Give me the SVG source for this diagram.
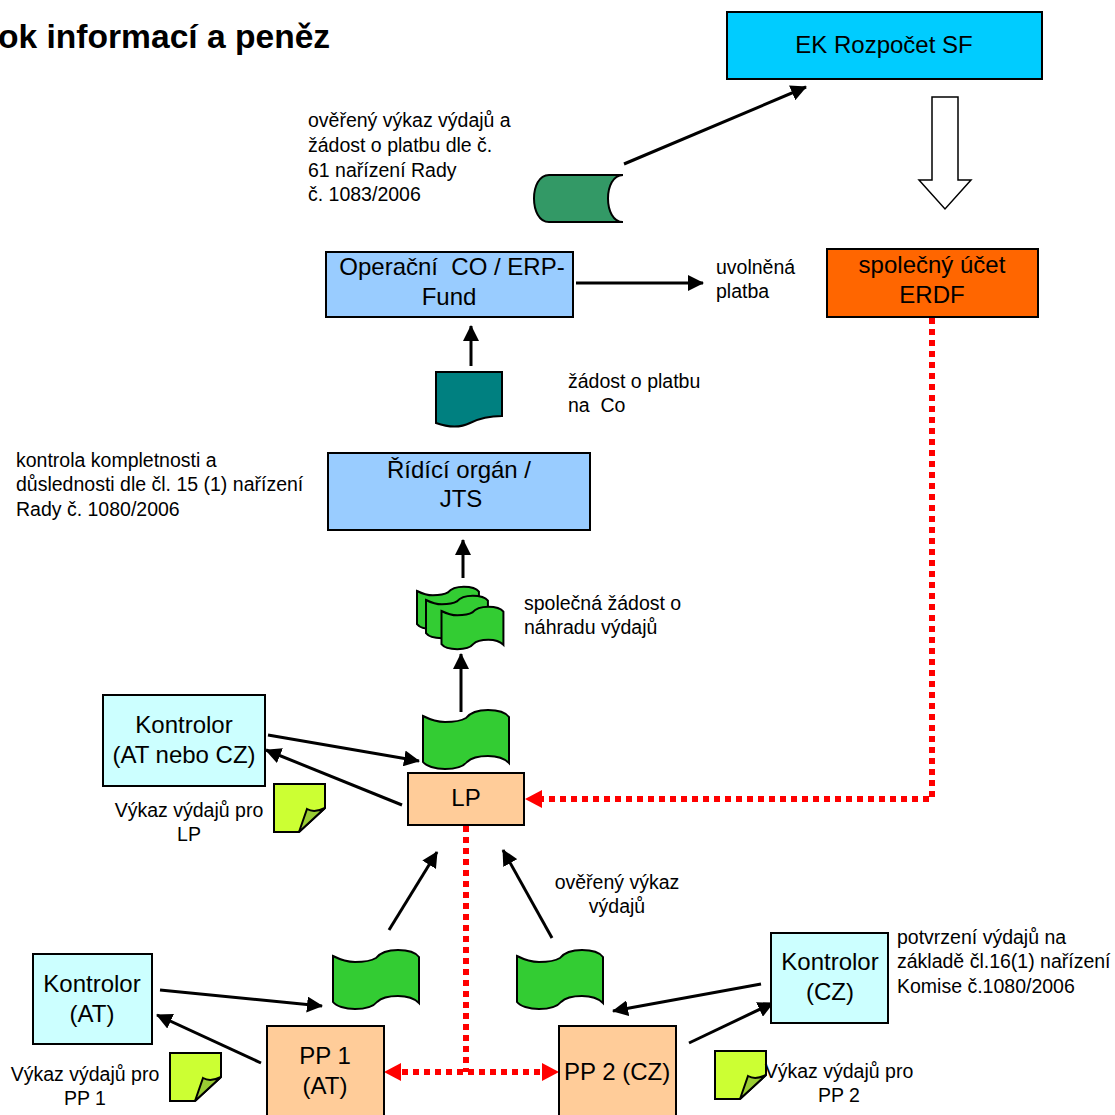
<svg xmlns="http://www.w3.org/2000/svg" width="1115" height="1115" viewBox="0 0 1115 1115">
<style>
text{font-family:"Liberation Sans",Arial,sans-serif;fill:#000}
.n{font-size:24px;text-anchor:middle}
.l{font-size:19.5px}
.c{text-anchor:middle}
.b{stroke:#000;stroke-width:2}
.fl{fill:#33cc33;stroke:#000;stroke-width:2;vector-effect:non-scaling-stroke}
.ln{fill:none;stroke:#000;stroke-width:3}
.r{fill:none;stroke:#f00;stroke-width:6;stroke-dasharray:6 5}
.note{fill:#ccff33;stroke:#000;stroke-width:2}
.fold{fill:#99cc33;stroke:#000;stroke-width:2}
</style>
<defs>
<marker id="ah" markerUnits="userSpaceOnUse" markerWidth="18" markerHeight="16" refX="15" refY="8" orient="auto"><path d="M0,0L16,8L0,16Z" fill="#000"/></marker>
<path id="flag" class="fl" d="M0,0C8,4 15,6 22,6C30,6 38,5 43,2C47,-3 55,-6 65,-6C75,-6 83,-3 86,1L86,47C82,43 74,40 65,40C55,40 48,42 44,46C40,51 32,53 22,53C12,53 3,50 0,46Z"/>
<g id="note"><path class="note" d="M0,0H51V24L25,48H0Z"/><path class="fold" d="M25,48L33,25C38,28 45,27 51,24Z"/></g>
</defs>
<text x="-2" y="48" style="font-size:33.6px;font-weight:bold">ok informací a peněz</text>

<g id="connectors">
<path class="ln" d="M624,164L806,87" marker-end="url(#ah)"/>
<path class="ln" d="M576,283H703" marker-end="url(#ah)"/>
<path class="ln" d="M471,366V326" marker-end="url(#ah)"/>
<path class="ln" d="M463,578V540" marker-end="url(#ah)"/>
<path class="ln" d="M461,712V654" marker-end="url(#ah)"/>
<path class="ln" d="M268,735L419,761" marker-end="url(#ah)"/>
<path class="ln" d="M402,805L266,750" marker-end="url(#ah)"/>
<path class="ln" d="M389,930L437,852" marker-end="url(#ah)"/>
<path class="ln" d="M552,938L503,850" marker-end="url(#ah)"/>
<path class="ln" d="M160,990L322,1006" marker-end="url(#ah)"/>
<path class="ln" d="M261,1063L157,1015" marker-end="url(#ah)"/>
<path class="ln" d="M761,984L613,1011" marker-end="url(#ah)"/>
<path class="ln" d="M689,1043L773,1003" marker-end="url(#ah)"/>
<path class="r" d="M932,318V799H540"/>
<path d="M542,790L525,799L542,808Z" fill="#f00"/>
<path class="r" d="M466,826V1072"/>
<path class="r" d="M402,1072H542"/>
<path d="M401,1063L384,1072L401,1081Z" fill="#f00"/>
<path d="M542,1063L559,1072L542,1081Z" fill="#f00"/>
</g>

<g id="ek"><rect class="b" x="727" y="12" width="315" height="67" fill="#00ccff"/><text class="n" x="884" y="53">EK Rozpočet SF</text></g>
<g id="arrow-hollow"><path d="M932,97H958V180H971L945,209L919,180H932Z" fill="#fff" stroke="#000" stroke-width="1.5"/></g>
<g id="ucet"><rect class="b" x="827" y="249" width="211" height="68" fill="#ff6600"/><text class="n" x="932" y="273">společný účet</text><text class="n" x="932" y="303">ERDF</text></g>
<g id="co"><rect class="b" x="326" y="252" width="247" height="65" fill="#99ccff"/><text class="n" x="452" y="275" xml:space="preserve">Operační  CO / ERP-</text><text class="n" x="449" y="305">Fund</text></g>
<g id="ro"><rect class="b" x="328" y="453" width="262" height="77" fill="#99ccff"/><text class="n" x="459" y="478">Řídící orgán /</text><text class="n" x="461" y="507">JTS</text></g>
<g id="kontrolor-lp"><rect class="b" x="103" y="695" width="162" height="91" fill="#ccffff"/><text class="n" x="184" y="733">Kontrolor</text><text class="n" x="184" y="763">(AT nebo CZ)</text></g>
<g id="lp"><rect class="b" x="408" y="773" width="116" height="52" fill="#ffcc99"/><text class="n" x="466" y="806">LP</text></g>
<g id="kontrolor-at"><rect class="b" x="33" y="954" width="119" height="90" fill="#ccffff"/><text class="n" x="92" y="992">Kontrolor</text><text class="n" x="92" y="1022">(AT)</text></g>
<g id="kontrolor-cz"><rect class="b" x="771" y="933" width="117" height="90" fill="#ccffff"/><text class="n" x="830" y="970">Kontrolor</text><text class="n" x="830" y="1000">(CZ)</text></g>
<g id="pp1"><rect class="b" x="267" y="1026" width="117" height="100" fill="#ffcc99"/><text class="n" x="325" y="1064">PP 1</text><text class="n" x="325" y="1094">(AT)</text></g>
<g id="pp2"><rect class="b" x="559" y="1026" width="117" height="100" fill="#ffcc99"/><text class="n" x="617" y="1080">PP 2 (CZ)</text></g>

<g id="doc-cylinder"><path d="M623,175H549C529,175 529,222 549,222H623C603,222 603,175 623,175Z" fill="#339966" stroke="#000" stroke-width="2"/></g>
<g id="doc-teal"><path d="M436,372H502V416C490,416 480,418 470,423C460,428 450,428 436,423Z" fill="#008080" stroke="#000" stroke-width="2"/></g>
<g id="doc-stack">
<use href="#flag" transform="translate(417,591) scale(.72)"/>
<use href="#flag" transform="translate(426,600) scale(.72)"/>
<use href="#flag" transform="translate(441.5,611) scale(.72)"/>
</g>
<g id="doc-lp"><use href="#flag" transform="translate(423,716)"/></g>
<g id="doc-pp1"><use href="#flag" transform="translate(333,956)"/></g>
<g id="doc-pp2"><use href="#flag" transform="translate(517,956)"/></g>
<g id="note-lp"><use href="#note" transform="translate(274,784)"/></g>
<g id="note-pp1"><use href="#note" transform="translate(170,1053)"/></g>
<g id="note-pp2"><use href="#note" transform="translate(715,1051)"/></g>

<g id="labels">
<text class="l" x="308" y="127">ověřený výkaz výdajů a</text>
<text class="l" x="308" y="152">žádost o platbu dle č.</text>
<text class="l" x="308" y="177">61 nařízení Rady</text>
<text class="l" x="308" y="201">č. 1083/2006</text>
<text class="l" x="716" y="274">uvolněná</text>
<text class="l" x="716" y="298">platba</text>
<text class="l" x="568" y="388">žádost o platbu</text>
<text class="l" x="568" y="412" xml:space="preserve">na  Co</text>
<text class="l" x="16" y="467">kontrola kompletnosti a</text>
<text class="l" x="16" y="491">důslednosti dle čl. 15 (1) nařízení</text>
<text class="l" x="16" y="516">Rady č. 1080/2006</text>
<text class="l" x="524" y="610">společná žádost o</text>
<text class="l" x="524" y="634">náhradu výdajů</text>
<text class="l c" x="189" y="817">Výkaz výdajů pro</text>
<text class="l c" x="189" y="841">LP</text>
<text class="l c" x="617" y="889">ověřený výkaz</text>
<text class="l c" x="617" y="913">výdajů</text>
<text class="l" x="897" y="944">potvrzení výdajů na</text>
<text class="l" x="897" y="968">základě čl.16(1) nařízení</text>
<text class="l" x="897" y="993">Komise č.1080/2006</text>
<text class="l c" x="85" y="1081">Výkaz výdajů pro</text>
<text class="l c" x="85" y="1105">PP 1</text>
<text class="l c" x="839" y="1078">Výkaz výdajů pro</text>
<text class="l c" x="839" y="1102">PP 2</text>
</g>
</svg>
